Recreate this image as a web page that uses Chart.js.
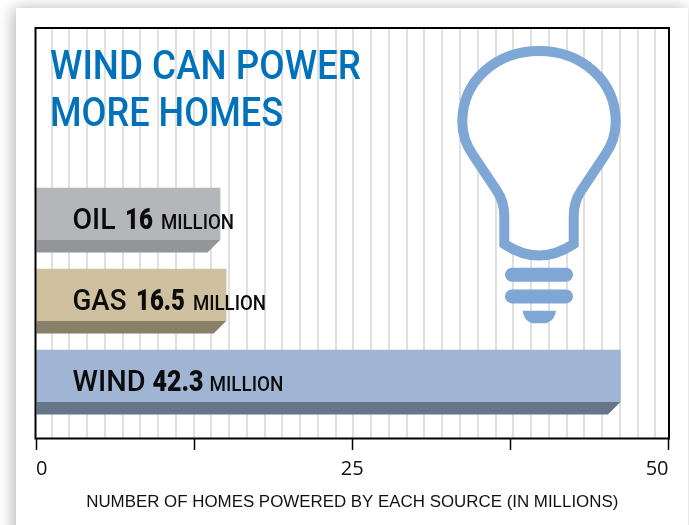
<!DOCTYPE html>
<html><head><meta charset="utf-8">
<style>
html,body{margin:0;padding:0;width:689px;height:525px;overflow:hidden;background:#fff}
#card{position:absolute;left:16px;top:8px;width:672px;height:560px;background:#fff;box-shadow:-3px 0 14px rgba(0,0,0,.28)}
#wrap{position:absolute;left:0;top:0;width:689px;height:525px}
</style>
<script src="https://cdn.jsdelivr.net/npm/chart.js@4"></script>
</head><body>
<div id="card"></div>
<div id="wrap"><canvas id="c" width="689" height="525"></canvas></div>
<script>
const titleLines = ['WIND CAN POWER', 'MORE HOMES'];
const categories = ['OIL', 'GAS', 'WIND'];
const statedValues = ['16', '16.5', '42.3'];
const unitLabel = 'MILLION';
const barLengths = [14.55, 15.03, 46.2];
const slots = [0, 1, 2];
const faceColors = ['#b5b6b9', '#cfc0a0', '#a0b5d3'];
const depthColors = ['#939598', '#8a7f69', '#66768a'];
const tickValues = [0, 12.5, 25, 37.5, 50];
const tickLabels = ['0', '', '25', '', '50'];
const axisTitle = 'NUMBER OF HOMES POWERED BY EACH SOURCE (IN MILLIONS)';
const gridFirst = 1.226, gridStep = 1.404, gridCount = 35;

function fitText(ctx, text, x, y, font, width) {
  ctx.save();
  ctx.font = font;
  const w = ctx.measureText(text).width;
  ctx.translate(x, y);
  ctx.scale(width / w, 1);
  ctx.fillText(text, 0, 0);
  ctx.restore();
}

const decor = {
  id: 'decor',
  beforeDatasetsDraw(chart) {
    const {ctx} = chart;
    ctx.save();
    ctx.strokeStyle = '#7fa7d6';
    ctx.fillStyle = '#fff';
    ctx.lineWidth = 10;
    ctx.lineJoin = 'miter';
    ctx.beginPath();
    ctx.moveTo(504.3, 244);
    ctx.lineTo(504.3, 216);
    ctx.bezierCurveTo(504.3, 205, 501, 197, 497, 191);
    ctx.lineTo(473, 155);
    ctx.bezierCurveTo(466, 145, 462.3, 134, 462.3, 122);
    ctx.bezierCurveTo(462.3, 80, 497, 51, 539, 51);
    ctx.bezierCurveTo(581, 51, 615.7, 80, 615.7, 122);
    ctx.bezierCurveTo(615.7, 134, 612, 145, 605, 155);
    ctx.lineTo(581, 191);
    ctx.bezierCurveTo(577, 197, 573.7, 205, 573.7, 216);
    ctx.lineTo(573.7, 244);
    ctx.quadraticCurveTo(539, 267, 504.3, 244);
    ctx.closePath();
    ctx.fill();
    ctx.stroke();
    ctx.fillStyle = '#7fa7d6';
    ctx.beginPath(); ctx.roundRect(505, 267.7, 68, 14, 7); ctx.fill();
    ctx.beginPath(); ctx.roundRect(505, 289.4, 68, 14, 7); ctx.fill();
    ctx.beginPath();
    ctx.moveTo(522.7, 310.7);
    ctx.lineTo(556, 310.7);
    ctx.bezierCurveTo(555, 319, 549, 323.3, 544, 323.3);
    ctx.lineTo(534, 323.3);
    ctx.bezierCurveTo(529, 323.3, 523.7, 319, 522.7, 310.7);
    ctx.fill();
    ctx.restore();
  },
  afterDatasetsDraw(chart) {
    const {ctx, chartArea: a} = chart;
    const bars = chart.getDatasetMeta(0).data;
    ctx.save();
    bars.forEach((b, i) => {
      const bottom = b.y + b.height / 2;
      ctx.fillStyle = depthColors[i];
      ctx.beginPath();
      ctx.moveTo(b.base, bottom);
      ctx.lineTo(b.x, bottom);
      ctx.lineTo(b.x - 12.5, bottom + 12.5);
      ctx.lineTo(b.base, bottom + 12.5);
      ctx.closePath();
      ctx.fill();
    });
    ctx.strokeStyle = '#000';
    ctx.lineWidth = 2;
    ctx.strokeRect(a.left - 0.5, a.top, a.right - a.left + 1, a.bottom - a.top + 0.5);
    ctx.fillStyle = '#0072bc';
    ctx.textBaseline = 'alphabetic';
    fitText(ctx, titleLines[0], 50, 79, '500 41px Roboto', 311);
    fitText(ctx, titleLines[1], 50, 126, '500 41px Roboto', 233);
    ctx.fillStyle = '#0b0b0b';
    const nameW = [43, 54, 73], valW = [28, 49, 51], unitW = [73, 73, 74];
    bars.forEach((b, i) => {
      const y = b.y + 14.5;
      let x = b.base + 36;
      fitText(ctx, categories[i], x, y, '500 30px Roboto', nameW[i]);
      x += nameW[i] + (i === 2 ? 7 : 9.5);
      fitText(ctx, statedValues[i], x, y, '900 30px Roboto', valW[i]);
      x += valW[i] + (i === 2 ? 6 : 8);
      fitText(ctx, unitLabel, x, y, '500 20px Roboto', unitW[i]);
    });
    ctx.restore();
  }
};

new Chart(document.getElementById('c'), {
  type: 'bar',
  plugins: [decor],
  data: {
    datasets: [{
      data: slots.map((s, i) => ({x: barLengths[i], y: s})),
      backgroundColor: faceColors,
      borderWidth: 0,
      barThickness: 52,
      xAxisID: 'x',
      yAxisID: 'y'
    }]
  },
  options: {
    indexAxis: 'y',
    responsive: false,
    animation: false,
    layout: {padding: {left: 36, right: 20.5, top: 28, bottom: 0}},
    plugins: {legend: {display: false}, tooltip: {enabled: false}},
    scales: {
      y: {type: 'linear', display: false, reverse: true, offset: false, min: -2.296, max: 2.765},
      xGrid: {
        type: 'linear', position: 'bottom', min: 0, max: 50, weight: 5,
        border: {display: false},
        ticks: {display: false},
        grid: {color: '#e0e0e0', lineWidth: 2, drawTicks: false},
        afterBuildTicks(s) {
          const t = [];
          for (let i = 0; i < gridCount; i++) t.push({value: gridFirst + i * gridStep});
          s.ticks = t;
        },
        afterFit(s) { s.height = 0; }
      },
      x: {
        type: 'linear', position: 'bottom', min: 0, max: 50, weight: 1,
        border: {display: false},
        grid: {drawOnChartArea: false, color: '#000', tickColor: '#000', tickLength: 12, tickWidth: 1.5},
        ticks: {
          autoSkip: false, maxRotation: 0, align: 'inner', padding: 7, color: '#111',
          font: {family: 'Open Sans', size: 20},
          callback(v) { const i = tickValues.indexOf(v); return i < 0 ? '' : tickLabels[i]; }
        },
        afterBuildTicks(s) { s.ticks = tickValues.map(v => ({value: v})); },
        title: {
          display: true, text: axisTitle, color: '#111',
          font: {family: 'Liberation Sans', size: 16.9},
          padding: {top: 0, bottom: 13}
        },
        afterFit(s) { s.height = 87; }
      }
    }
  }
});
</script>
</body></html>
